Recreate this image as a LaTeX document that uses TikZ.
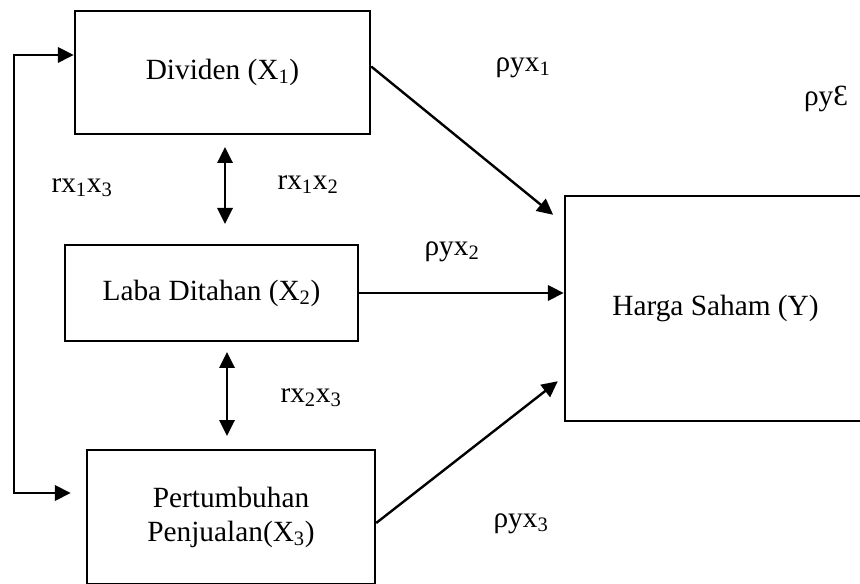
\documentclass[tikz,border=0pt]{standalone}
\usepackage{fontspec}
\setmainfont{Liberation Serif}
\usetikzlibrary{arrows.meta,calc}
\begin{document}
\begin{tikzpicture}[x=0.75pt,y=-0.75pt,
  box/.style={draw,line width=1.8pt,inner sep=0pt,align=center,font=\fontsize{22pt}{25.5pt}\selectfont},
  lbl/.style={inner sep=0pt,font=\fontsize{22pt}{25.5pt}\selectfont},
  conn/.style={line width=1.8pt,-{Triangle[length=12pt,width=11.5pt]}},
  dconn/.style={line width=1.8pt,{Triangle[length=12pt,width=11.5pt]}-{Triangle[length=12pt,width=11.5pt]}}]
\useasboundingbox (0,0) rectangle (860,584);
\node[box,minimum width=221.25pt,minimum height=92.25pt] (d) at (222.5,72.5) {Dividen (X\textsubscript{1})};
\node[box,minimum width=219.75pt,minimum height=72pt] (l) at (211.5,293) {Laba Ditahan (X\textsubscript{2})};
\node[box,minimum width=216pt,minimum height=100.5pt] (p) at (231,517) {Pertumbuhan\\Penjualan(X\textsubscript{3})};
\node[box,minimum width=225.75pt,minimum height=168.75pt] (h) at (715.5,308.5) {Harga Saham (Y)};
\coordinate (f1) at (14,55);
\coordinate (f2) at (14,493);
\coordinate (a1) at (225,147);
\coordinate (a2) at (225,224);
\coordinate (b1) at (227,352);
\coordinate (b2) at (227,436);
\draw[dconn] (d.west |- f1) -- (f1) -- (f2) -- ([xshift=-11.25pt]p.west |- f2);
\draw[dconn] (a1) -- (a2);
\draw[dconn] (b1) -- (b2);
\draw[conn] ([yshift=4.5pt]d.east) -- ([xshift=-8pt,yshift=-15pt]h.north west);
\draw[conn] (l.east) -- (l.east -| h.west);
\draw[conn] ([yshift=-4.5pt]p.east) -- ([xshift=-4.5pt,yshift=30.75pt]h.south west);
\node[lbl] (r13) at (82,188) {rx\textsubscript{1}x\textsubscript{3}};
\node[lbl] (r12) at (308,185) {rx\textsubscript{1}x\textsubscript{2}};
\node[lbl] (r23) at (311,398) {rx\textsubscript{2}x\textsubscript{3}};
\node[lbl] (p1) at (523,68) {ρyx\textsubscript{1}};
\node[lbl] (pe) at (826,99) {ρyƐ};
\node[lbl] (p2) at (452,252) {ρyx\textsubscript{2}};
\node[lbl] (p3) at (521,524) {ρyx\textsubscript{3}};
\end{tikzpicture}
\end{document}
